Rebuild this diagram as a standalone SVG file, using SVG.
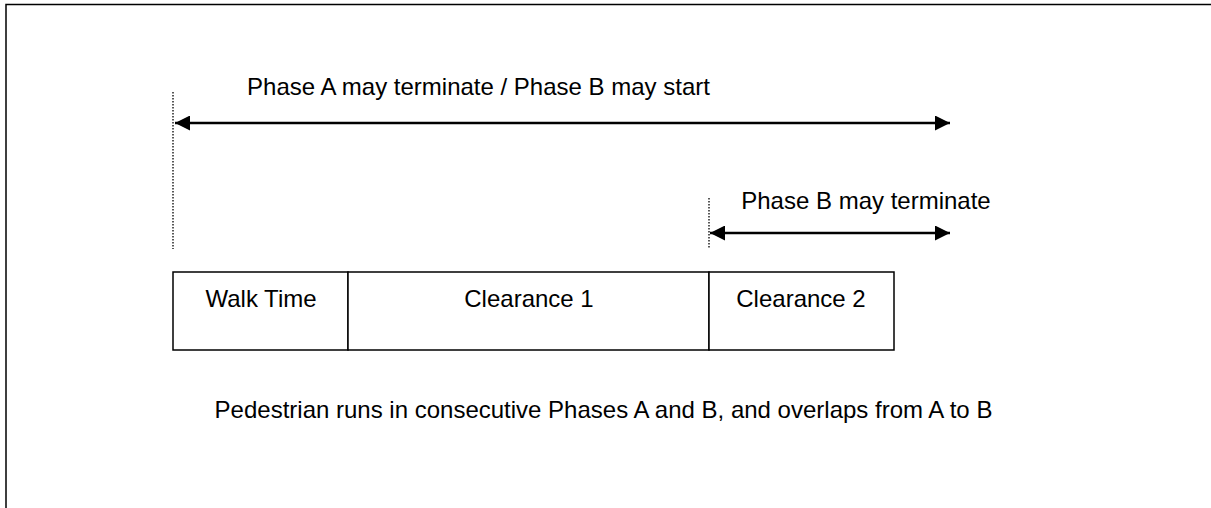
<svg xmlns="http://www.w3.org/2000/svg" width="1211" height="508" viewBox="0 0 1211 508">
<style>
text{font-family:"Liberation Sans",Arial,sans-serif;font-size:24px;fill:#000}
.box{fill:#fff;stroke:#000;stroke-width:1.5}
.dot{stroke:#000;stroke-width:1.3;stroke-dasharray:1.5 1.5;fill:none}
.arr{stroke:#000;stroke-width:2.5;fill:none;marker-start:url(#ah);marker-end:url(#ah)}
</style>
<defs>
<marker id="ah" viewBox="0 0 10 10" refX="10" refY="5" markerWidth="6" markerHeight="6" orient="auto-start-reverse" markerUnits="strokeWidth">
<path d="M0,0 L10,5 L0,10 z" fill="#000"/>
</marker>
</defs>
<rect width="1211" height="508" fill="#fff"/>
<path d="M6,508 V4.5 H1211" fill="none" stroke="#000" stroke-width="1.5"/>
<g id="connectors">
<line class="dot" x1="173" y1="92" x2="173" y2="249"/>
<line class="dot" x1="709" y1="198" x2="709" y2="249"/>
<line class="arr" x1="175" y1="123" x2="950" y2="123"/>
<line class="arr" x1="710" y1="233" x2="950" y2="233"/>
</g>
<g id="label-top"><text x="478.5" y="95" text-anchor="middle">Phase A may terminate / Phase B may start</text></g>
<g id="label-b"><text x="866" y="209" text-anchor="middle">Phase B may terminate</text></g>
<g id="walk"><rect class="box" x="173" y="272" width="175" height="78"/><text x="261" y="307" text-anchor="middle">Walk Time</text></g>
<g id="clear1"><rect class="box" x="348" y="272" width="361" height="78"/><text x="529" y="307" text-anchor="middle">Clearance 1</text></g>
<g id="clear2"><rect class="box" x="709" y="272" width="185" height="78"/><text x="801" y="307" text-anchor="middle">Clearance 2</text></g>
<g id="caption"><text x="603.5" y="418" text-anchor="middle">Pedestrian runs in consecutive Phases A and B, and overlaps from A to B</text></g>
</svg>
